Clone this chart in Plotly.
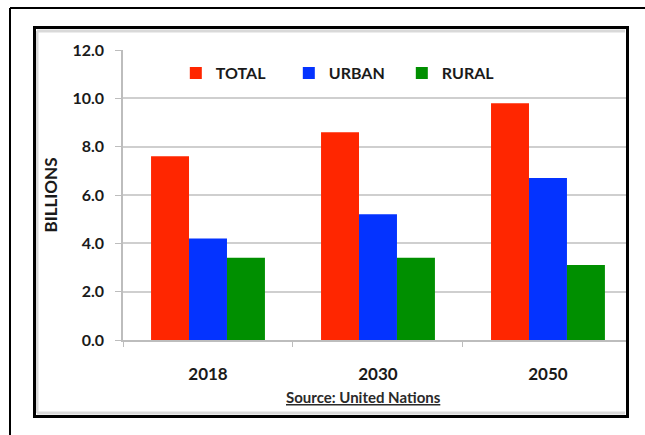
import plotly.graph_objects as go

# World population (billions), United Nations projections
years = ["2018", "2030", "2050"]
total = [7.6, 8.6, 9.8]
urban = [4.2, 5.2, 6.7]
rural = [3.4, 3.4, 3.1]

series_names = ["TOTAL", "URBAN", "RURAL"]
series_colors = ["#FF2600", "#0433FF", "#008F00"]
y_ticks = [0, 2, 4, 6, 8, 10, 12]
y_tick_text = ["0.0", "2.0", "4.0", "6.0", "8.0", "10.0", "12.0"]

W, H = 645, 435
L, R, T, B = 123, 19, 50, 95

FONT = "Lato, 'Open Sans', sans-serif"
TEXT_COLOR = "#1a1a1a"
GRID = "#cfcfcf"

fig = go.Figure()
for name, vals, color in zip(series_names, [total, urban, rural], series_colors):
    fig.add_trace(go.Bar(x=years, y=vals, name=name, marker=dict(color=color, line=dict(width=0))))

fig.update_layout(
    width=W, height=H,
    margin=dict(l=L, r=R, t=T, b=B, pad=0),
    paper_bgcolor="white", plot_bgcolor="white",
    barmode="group", bargap=0.33, bargroupgap=0,
    font=dict(family=FONT, size=15, color=TEXT_COLOR, weight="bold"),
    showlegend=True,
    legend=dict(
        orientation="h", x=0.105, xanchor="left", y=0.92, yanchor="middle",
        bgcolor="rgba(255,255,255,0.6)", borderwidth=0,
        font=dict(family=FONT, size=16, color=TEXT_COLOR, weight="bold"),
        entrywidth=68, entrywidthmode="pixels", traceorder="normal",
    ),
    xaxis=dict(
        range=[-0.5, 2.459], showline=True, linecolor="#bdbdbd", linewidth=1.5,
        ticks="outside", tickson="boundaries", ticklen=5, tickcolor="#bdbdbd",
        showgrid=False, ticklabelstandoff=18,
        tickfont=dict(family=FONT, size=17, color=TEXT_COLOR, weight="bold"),
    ),
    yaxis=dict(
        range=[0, 12], tickvals=y_ticks, ticktext=y_tick_text,
        showline=True, linecolor="#bdbdbd", linewidth=1.5,
        ticks="outside", ticklen=6, tickcolor="#bdbdbd",
        showgrid=True, gridcolor=GRID, gridwidth=2, zeroline=False,
        ticklabelstandoff=8,
        tickfont=dict(family=FONT, size=16, color=TEXT_COLOR, weight="bold"),
        title=dict(text="BILLIONS", standoff=10,
                   font=dict(family=FONT, size=17, color=TEXT_COLOR, weight="bold")),
    ),
)

# source note under the category labels
fig.add_annotation(
    text="<span style='text-decoration:underline'>Source: United Nations</span>",
    xref="paper", yref="paper", x=0.479, y=-0.197, xanchor="center", yanchor="middle",
    showarrow=False, font=dict(family=FONT, size=15, color="#2a2a2a", weight="bold"),
)

def px_x(p):
    return (p - L) / (W - L - R)

def px_y(p):
    return (H - B - p) / (H - T - B)

# inner chart frame with soft grey inner edge
for x0, y0, x1, y1 in [(37, 31, 625, 31), (37, 413, 625, 413), (37, 31, 37, 413)]:
    fig.add_shape(type="line", xref="paper", yref="paper",
                  x0=px_x(x0), y0=px_y(y0), x1=px_x(x1), y1=px_y(y1),
                  line=dict(color="#d9d9d9", width=3), layer="above")
fig.add_shape(type="rect", xref="paper", yref="paper",
              x0=px_x(34.5), y0=px_y(27.5), x1=px_x(627.5), y1=px_y(416.5),
              line=dict(color="black", width=3), fillcolor="rgba(0,0,0,0)", layer="above")
# outer frame (top and left edges)
fig.add_shape(type="line", xref="paper", yref="paper",
              x0=px_x(10), y0=px_y(8), x1=px_x(650), y1=px_y(8),
              line=dict(color="black", width=2), layer="above")
fig.add_shape(type="line", xref="paper", yref="paper",
              x0=px_x(10), y0=px_y(8), x1=px_x(10), y1=px_y(440),
              line=dict(color="black", width=2), layer="above")

fig.write_html("out.html")
